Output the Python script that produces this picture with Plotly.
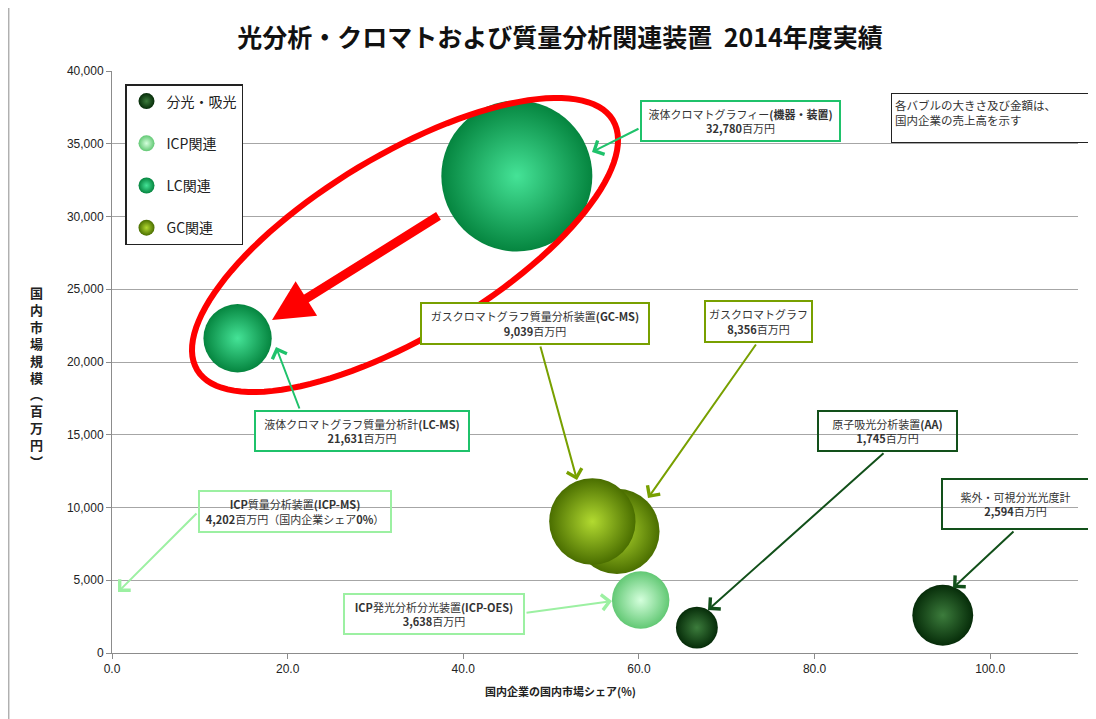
import math
import plotly.graph_objects as go

# ---------------- data ----------------
group_names = ["分光・吸光", "ICP関連", "LC関連", "GC関連"]
group_edge_colors = ["#062c09", "#62c874", "#05853f", "#4a6e00"]
group_center_colors = ["#3c7c3c", "#d4ffdc", "#45e397", "#b2da30"]
group_line_colors = ["#12501a", "#9cf0a2", "#1fc26b", "#78a000"]

item_names = ["液体クロマトグラフィー", "液体クロマトグラフ質量分析計", "ガスクロマトグラフ",
              "ガスクロマトグラフ質量分析装置", "ICP発光分析分光装置", "ICP質量分析装置",
              "原子吸光分析装置", "紫外・可視分光光度計"]
item_group = ["LC関連", "LC関連", "GC関連", "GC関連", "ICP関連", "ICP関連", "分光・吸光", "分光・吸光"]
share_pct = [46.1, 14.3, 57.5, 54.7, 60.2, 0.0, 66.6, 94.6]          # 国内企業の国内市場シェア(%)
market_size = [32780, 21631, 8356, 9039, 3638, 4202, 1745, 2594]    # 国内市場規模(百万円)
domestic_sales = [15110, 3093, 4805, 4944, 2190, 0, 1162, 2454]     # 国内企業の売上高(bubble size)

x_ticks = [0, 20, 40, 60, 80, 100]
y_ticks = [0, 5000, 10000, 15000, 20000, 25000, 30000, 35000, 40000]

# ---------------- layout geometry ----------------
OFF = 8                      # page body margin
W, H = 1096 - OFF, 719 - OFF
X0P, X1P, Y0P, Y1P = 112, 1078, 653, 71   # plot area in page pixels
ML, MR = X0P - OFF, W - (X1P - OFF)
MT, MB = Y1P - OFF, H - (Y0P - OFF)
XR = [0, 110]
YR = [0, 40000]


def px2x(px):
    return XR[0] + (px - X0P) / (X1P - X0P) * (XR[1] - XR[0])


def py2y(py):
    return YR[0] + (Y0P - py) / (Y0P - Y1P) * (YR[1] - YR[0])


def px2paper(px):
    return (px - X0P) / (X1P - X0P)


def py2paper(py):
    return (Y0P - py) / (Y0P - Y1P)


JP = "Noto Sans CJK JP"

fig = go.Figure()

sizeref = 2.0 * max(domestic_sales) / (151.0 ** 2)
for gi, g in enumerate(group_names):
    idx = [i for i, ig in enumerate(item_group) if ig == g]
    fig.add_trace(go.Scatter(
        x=[share_pct[i] for i in idx],
        y=[market_size[i] for i in idx],
        mode="markers",
        name=g,
        legendgroup=g,
        text=[item_names[i] for i in idx],
        marker=dict(
            size=[domestic_sales[i] for i in idx],
            sizemode="area",
            sizeref=sizeref,
            sizemin=0,
            color=group_edge_colors[gi],
            gradient=dict(type="radial", color=group_center_colors[gi]),
            line=dict(width=0),
            opacity=1,
        ),
        hoverinfo="text",
    ))

annotations = []
shapes = []


def lab(i):
    return f"<b>{market_size[i]:,}</b>百万円"


gcol = dict(zip(group_names, group_line_colors))

# label boxes: (page-pixel box x0,y0,x1,y1), text, border colour, bg
boxes = [
    ((640, 100, 841, 142), "液体クロマトグラフィー<b>(機器・装置)</b><br>" + lab(0), gcol["LC関連"], "white"),
    ((254, 410, 470, 452), "液体クロマトグラフ質量分析計<b>(LC-MS)</b><br>" + lab(1), gcol["LC関連"], "white"),
    ((420, 302, 650, 345), "ガスクロマトグラフ質量分析装置<b>(GC-MS)</b><br>" + lab(3), gcol["GC関連"], "white"),
    ((704, 300, 813, 343), "ガスクロマトグラフ<br>" + lab(2), gcol["GC関連"], "white"),
    ((198, 490, 392, 533), "<b>ICP</b>質量分析装置<b>(ICP-MS)</b><br>" + lab(5) + "（国内企業シェア<b>0%</b>）",
     gcol["ICP関連"], "rgba(0,0,0,0)"),
    ((343, 593, 525, 635), "<b>ICP</b>発光分析分光装置<b>(ICP-OES)</b><br>" + lab(4), gcol["ICP関連"], "white"),
    ((817, 410, 958, 452), "原子吸光分析装置<b>(AA)</b><br>" + lab(6), gcol["分光・吸光"], "rgba(0,0,0,0)"),
    ((941, 478, 1090, 530), "紫外・可視分光光度計<br>" + lab(7), gcol["分光・吸光"], "rgba(0,0,0,0)"),
]
for (x0, y0, x1, y1), txt, col, bg in boxes:
    annotations.append(dict(
        x=px2x((x0 + x1) / 2), y=py2y((y0 + y1) / 2), xref="x", yref="y",
        xanchor="center", yanchor="middle",
        text=txt, showarrow=False, align="center",
        width=(x1 - x0) - 10, height=(y1 - y0) - 10,
        borderpad=3, borderwidth=2, bordercolor=col, bgcolor=bg,
        font=dict(family=JP, size=11, color="#333333"),
    ))

# note box
annotations.append(dict(
    x=px2x(991), y=py2y(118), xref="x", yref="y", xanchor="center", yanchor="middle",
    text="各バブルの大きさ及び金額は、<br>国内企業の売上高を示す", showarrow=False, align="left",
    width=192, height=42, borderpad=3, borderwidth=1, bordercolor="#222222", bgcolor="white",
    valign="top",
    font=dict(family=JP, size=11.5, color="#333333"),
))

# leader arrows: tail pixel -> head pixel
arrows = [
    ((640, 128), (592, 152), gcol["LC関連"]),
    ((300, 410), (276, 347), gcol["LC関連"]),
    ((540, 345), (577, 480), gcol["GC関連"]),
    ((757, 343), (648, 498), gcol["GC関連"]),
    ((198, 512), (118, 592), gcol["ICP関連"]),
    ((525, 613), (612, 601), gcol["ICP関連"]),
    ((885, 452), (708, 610), gcol["分光・吸光"]),
    ((1015, 530), (953, 588), gcol["分光・吸光"]),
]
for (tx, ty), (hx, hy), col in arrows:
    annotations.append(dict(
        x=px2x(hx), y=py2y(hy), ax=px2x(tx), ay=py2y(ty), xref="x", yref="y", axref="x", ayref="y",
        text="", showarrow=True, arrowhead=4, arrowsize=1.5, arrowwidth=2, arrowcolor=col, standoff=0,
    ))

# red highlight arrow
annotations.append(dict(
    x=px2x(272), y=py2y(320), ax=px2x(440), ay=py2y(215), xref="x", yref="y", axref="x", ayref="y",
    text="", showarrow=True, arrowhead=2, arrowsize=0.9, arrowwidth=9, arrowcolor="#ff0000", standoff=0,
))

# axis titles
annotations.append(dict(
    x=px2paper(36), y=py2paper(377), xref="paper", yref="paper", xanchor="center", yanchor="middle",
    text="<b>" + "<br>".join(list("国内市場規模︵百万円︶")) + "</b>", showarrow=False,
    font=dict(family=JP, size=13, color="#222222"), align="center",
))
annotations.append(dict(
    x=px2paper(560), y=py2paper(691), xref="paper", yref="paper", xanchor="center", yanchor="middle",
    text="<b>国内企業の国内市場シェア(%)</b>", showarrow=False,
    font=dict(family=JP, size=11, color="#222222"),
))

# red ellipse (page-pixel geometry -> data coordinates)
cx, cy, a, b, th = 405, 245, 242.5, 90.5, math.radians(31)
pts = []
for k in range(121):
    t = 2 * math.pi * k / 120
    px = cx + a * math.cos(t) * math.cos(th) + b * math.sin(t) * math.sin(th)
    py = cy - a * math.cos(t) * math.sin(th) + b * math.sin(t) * math.cos(th)
    pts.append(f"{px2x(px):.4f},{py2y(py):.2f}")
shapes.append(dict(type="path", xref="x", yref="y", path="M" + " L".join(pts) + " Z",
                   line=dict(color="#ff0000", width=6), layer="above"))

# chart frame line at left
shapes.append(dict(type="line", xref="paper", yref="paper", x0=px2paper(8.7), x1=px2paper(8.7),
                   y0=py2paper(8), y1=py2paper(719), line=dict(color="#b0b0b0", width=1.5)))

fig.update_layout(
    width=W, height=H,
    margin=dict(l=ML, r=MR, t=MT, b=MB),
    paper_bgcolor="white", plot_bgcolor="white",
    title=dict(text="<b>光分析・クロマトおよび質量分析関連装置 \u00a02014年度実績</b>",
               x=(560 - OFF) / W, xanchor="center", y=1 - (38 - OFF) / H, yanchor="middle",
               font=dict(family=JP, size=25, color="#111111")),
    xaxis=dict(range=XR, tickvals=x_ticks, ticktext=[f"{v:.1f}" for v in x_ticks],
               showgrid=False, zeroline=False, showline=True, linecolor="#8c8c8c", linewidth=1,
               ticks="outside", ticklen=5, tickcolor="#8c8c8c",
               tickfont=dict(family="Liberation Sans", size=12, color="#222222")),
    yaxis=dict(range=YR, tickvals=y_ticks, ticktext=[f"{v:,}" for v in y_ticks],
               showgrid=True, gridcolor="#a6a6a6", gridwidth=1, zeroline=False,
               showline=True, linecolor="#8c8c8c", linewidth=1,
               ticks="outside", ticklen=5, tickcolor="#8c8c8c",
               tickfont=dict(family="Liberation Sans", size=12, color="#222222")),
    legend=dict(x=px2paper(125), y=py2paper(84), xanchor="left", yanchor="top",
                bgcolor="white", bordercolor="#222222", borderwidth=1.5,
                font=dict(family=JP, size=14, color="#222222"),
                tracegroupgap=21, itemsizing="trace", entrywidth=175),
    showlegend=True,
    annotations=annotations,
    shapes=shapes,
)

fig.write_html("out.html")
